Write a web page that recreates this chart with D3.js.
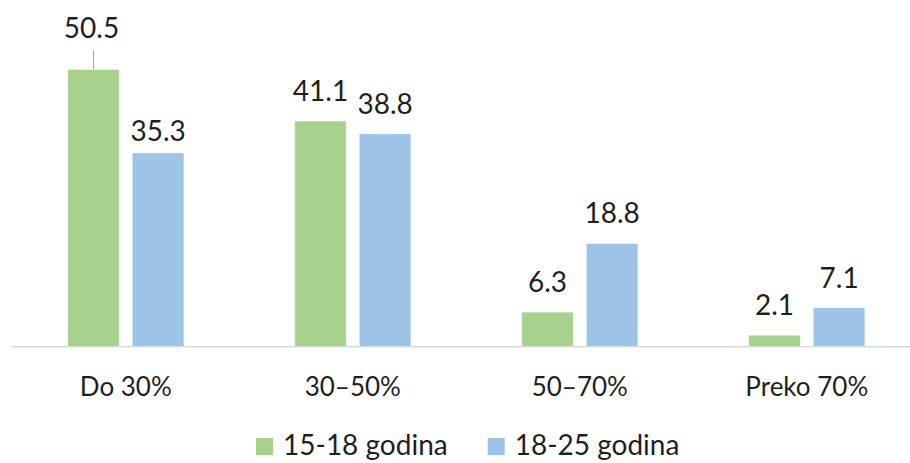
<!DOCTYPE html>
<html>
<head>
<meta charset="utf-8">
<script src="https://cdn.jsdelivr.net/npm/d3@7"></script>
<style>
  body { margin: 0; background: #fff; }
  text { font-family: Lato, "Open Sans", sans-serif; fill: #1f1f1f; }
</style>
</head>
<body>
<div id="container"></div>
<script>
let w = 910;
let h = 463;

// DATA
let categories = ["Do 30%", "30–50%", "50–70%", "Preko 70%"];
let seriesNames = ["15-18 godina", "18-25 godina"];
let values1518 = [50.5, 41.1, 6.3, 2.1];
let values1825 = [35.3, 38.8, 18.8, 7.1];
let colors = ["#A9D18E", "#9DC3E6"];

let rows = categories.map(function(c, i){
  return { cat: c, vals: [values1518[i], values1825[i]] };
});

let viz = d3.select("#container").append("svg")
    .attr("width", w)
    .attr("height", h)
    .style("display", "block");

// SCALES
let xScale = d3.scaleBand().domain(categories)
    .range([12.3, 920.3])
    .paddingInner(0.488)
    .paddingOuter(0.244);

let xSub = d3.scaleBand().domain(d3.range(seriesNames.length))
    .range([0, xScale.bandwidth()])
    .paddingInner(0.2);

let baseY = 346.7;
let yScale = d3.scaleLinear().domain([0, 60]).range([baseY, baseY - 60 * 5.49]);

// baseline
viz.append("line")
    .attr("x1", 11).attr("x2", w)
    .attr("y1", baseY).attr("y2", baseY)
    .attr("stroke", "#D9D9D9")
    .attr("stroke-width", 1.5);

let groups = viz.selectAll(".grp").data(rows).enter()
  .append("g")
    .attr("class", "grp")
    .attr("transform", function(d){ return "translate(" + xScale(d.cat) + ",0)"; });

groups.selectAll("rect").data(function(d){
    return d.vals.map(function(v, i){ return { v: v, s: i, cat: d.cat }; });
  }).enter()
  .append("rect")
    .attr("x", function(d){ return xSub(d.s); })
    .attr("y", function(d){ return yScale(d.v); })
    .attr("width", xSub.bandwidth())
    .attr("height", function(d){ return baseY - yScale(d.v); })
    .attr("fill", function(d){ return colors[d.s]; })
    .attr("stroke", "#ffffff")
    .attr("stroke-opacity", 0.5)
    .attr("stroke-width", 1);

// data labels
groups.each(function(d){
  let g = d3.select(this);
  d.vals.forEach(function(v, i){
    let cx = xSub(i) + xSub.bandwidth() / 2;
    let ty = yScale(v) - 20;
    if (d.cat == "Do 30%" && i == 1) ty = yScale(v) - 11.5; // moved a little down
    if (ty < 55) {
      // label pulled up with a leader line
      g.append("line")
        .attr("x1", cx).attr("x2", cx)
        .attr("y1", 50).attr("y2", yScale(v))
        .attr("stroke", "#A6A6A6")
        .attr("stroke-width", 1);
      ty = 38;
      cx = cx - 2;
    }
    g.append("text")
      .attr("x", cx)
      .attr("y", ty)
      .attr("text-anchor", "middle")
      .style("font-size", "28px")
      .text(v.toFixed(1));
  });
});

// category labels
viz.selectAll(".cat").data(categories).enter()
  .append("text")
    .attr("class", "cat")
    .attr("x", function(d){ return xScale(d) + xScale.bandwidth() / 2; })
    .attr("y", 395.7)
    .attr("text-anchor", "middle")
    .style("font-size", "26px")
    .text(function(d){ return d; });

// legend
let lx = 256;
seriesNames.forEach(function(s, i){
  viz.append("rect")
    .attr("x", lx).attr("y", 438)
    .attr("width", 17).attr("height", 17)
    .attr("fill", colors[i]);
  let t = viz.append("text")
    .attr("x", lx + 27)
    .attr("y", 455)
    .style("font-size", "28px")
    .text(s);
  lx = lx + 27 + t.node().getComputedTextLength() + 40;
});
</script>
</body>
</html>
